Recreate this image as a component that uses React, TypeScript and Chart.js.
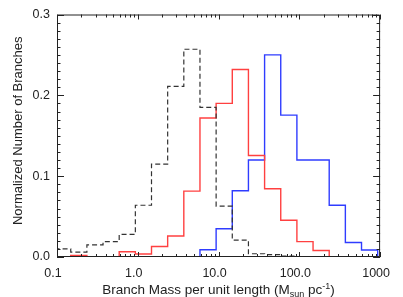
import React, { useEffect, useRef } from 'react';
import { Chart, registerables } from 'chart.js';

Chart.register(...registerables);

// Histogram bin edges, log10 of branch mass per unit length
const binEdgesLog = [
  -1.03, -0.83, -0.63, -0.43, -0.23, -0.03, 0.17, 0.37, 0.57, 0.77, 0.97,
  1.17, 1.37, 1.57, 1.77, 1.97, 2.17, 2.37, 2.57, 2.77, 2.97, 3.17,
];

// Normalized number of branches per bin (21 bins)
const blackDashedValues = [
  0.010, 0.006, 0.015, 0.019, 0.028, 0.064, 0.115, 0.211, 0.257, 0.185, 0.063,
  0.021, 0.004, 0.003, 0.001, 0, 0, 0, 0, 0, 0,
];
const redValues = [
  0, 0.002, 0, 0, 0.0065, 0.0037, 0.013, 0.026, 0.0815, 0.172, 0.19,
  0.232, 0.1255, 0.0845, 0.0455, 0.019, 0.008, 0, 0, 0, 0,
];
const blueValues = [
  0, 0, 0, 0, 0, 0, 0, 0, 0, 0.009, 0.035,
  0.082, 0.12, 0.25, 0.1755, 0.12, 0.12, 0.064, 0.018, 0.0086, 0,
];

const xTickValues = [0.1, 1, 10, 100, 1000];
const xTickLabels = ['0.1', '1.0', '10.0', '100.0', '1000'];
const yTickValues = [0, 0.1, 0.2, 0.3];
const yTickLabels = ['0.0', '0.1', '0.2', '0.3'];

const xTitleMain = 'Branch Mass per unit length (M';
const xTitleSub = 'sun';
const xTitleMid = ' pc';
const xTitleSup = '-1';
const xTitleEnd = ')';
const yTitle = 'Normalized Number of Branches';

const FONT = "'Liberation Sans', Arial, sans-serif";
const TEXT = '#222';

function toSteps(values: number[]) {
  const pts = values.map((v, i) => ({ x: Math.pow(10, binEdgesLog[i]), y: v }));
  pts.push({ x: Math.pow(10, binEdgesLog[binEdgesLog.length - 1]), y: values[values.length - 1] });
  return pts;
}

const idlFrame = {
  id: 'idlFrame',
  afterDatasetsDraw(chart: any) {
    const { ctx, chartArea: a, scales } = chart;
    const xs = scales.x;
    const ys = scales.y;
    ctx.save();
    ctx.strokeStyle = TEXT;
    ctx.lineWidth = 1;
    ctx.beginPath();
    ctx.rect(a.left + 0.5, a.top + 0.5, a.right - a.left - 1, a.bottom - a.top - 1);
    ctx.stroke();

    const line = (x1: number, y1: number, x2: number, y2: number) => {
      ctx.moveTo(x1, y1);
      ctx.lineTo(x2, y2);
    };
    ctx.beginPath();
    const xMaj = 5, xMin = 3;
    for (let d = 0; d < xTickValues.length; d++) {
      const v = xTickValues[d];
      const px = Math.round(xs.getPixelForValue(v)) + 0.5;
      line(px, a.bottom, px, a.bottom - xMaj);
      line(px, a.top, px, a.top + xMaj);
      if (d < xTickValues.length - 1) {
        for (let m = 2; m <= 9; m++) {
          const mx = Math.round(xs.getPixelForValue(v * m)) + 0.5;
          line(mx, a.bottom, mx, a.bottom - xMin);
          line(mx, a.top, mx, a.top + xMin);
        }
      }
    }
    const yMaj = 7, yMin = 3.5;
    for (let d = 0; d < yTickValues.length; d++) {
      const v = yTickValues[d];
      const py = Math.round(ys.getPixelForValue(v)) + 0.5;
      line(a.left, py, a.left + yMaj, py);
      line(a.right, py, a.right - yMaj, py);
      if (d < yTickValues.length - 1) {
        const step = (yTickValues[d + 1] - v) / 10;
        for (let m = 1; m <= 9; m++) {
          const my = Math.round(ys.getPixelForValue(v + step * m)) + 0.5;
          line(a.left, my, a.left + yMin, my);
          line(a.right, my, a.right - yMin, my);
        }
      }
    }
    ctx.stroke();
    ctx.restore();
  },
  afterDraw(chart: any) {
    const { ctx, chartArea: a } = chart;
    ctx.save();
    ctx.fillStyle = TEXT;
    const big = `13.5px ${FONT}`;
    const small = `9px ${FONT}`;
    const parts = [
      { t: xTitleMain, f: big, dy: 0 },
      { t: xTitleSub, f: small, dy: 3 },
      { t: xTitleMid, f: big, dy: 0 },
      { t: xTitleSup, f: small, dy: -5 },
      { t: xTitleEnd, f: big, dy: 0 },
    ];
    let w = 0;
    parts.forEach((p) => {
      ctx.font = p.f;
      w += ctx.measureText(p.t).width;
    });
    let x = (a.left + a.right) / 2 - w / 2;
    const base = 294;
    ctx.textAlign = 'left';
    ctx.textBaseline = 'alphabetic';
    parts.forEach((p) => {
      ctx.font = p.f;
      ctx.fillText(p.t, x, base + p.dy);
      x += ctx.measureText(p.t).width;
    });

    ctx.translate(18, (a.top + a.bottom) / 2 - 5);
    ctx.rotate(-Math.PI / 2);
    ctx.font = `13px ${FONT}`;
    ctx.textAlign = 'center';
    ctx.textBaseline = 'middle';
    ctx.fillText(yTitle, 0, 0);
    ctx.restore();
  },
};

export default function App() {
  const ref = useRef<HTMLCanvasElement | null>(null);

  useEffect(() => {
    if (!ref.current) return;
    const chart = new Chart(ref.current, {
      type: 'line',
      data: {
        datasets: [
          {
            data: toSteps(blackDashedValues),
            borderColor: '#333',
            borderWidth: 1.2,
            borderDash: [5, 3],
            stepped: true,
            pointRadius: 0,
            fill: false,
          },
          {
            data: toSteps(redValues),
            borderColor: '#ff4040',
            borderWidth: 1.4,
            stepped: true,
            pointRadius: 0,
            fill: false,
          },
          {
            data: toSteps(blueValues),
            borderColor: '#2f3cff',
            borderWidth: 1.4,
            stepped: true,
            pointRadius: 0,
            fill: false,
          },
        ],
      },
      options: {
        animation: false,
        responsive: false,
        events: [],
        layout: { padding: { left: 0, right: 10, top: 13, bottom: 0 } },
        plugins: {
          legend: { display: false },
          tooltip: { enabled: false },
        },
        scales: {
          x: {
            type: 'logarithmic',
            min: 0.1,
            max: 1000,
            grid: { display: false, drawTicks: false },
            border: { display: false },
            afterBuildTicks: (s: any) => {
              s.ticks = xTickValues.map((v) => ({ value: v }));
            },
            afterFit: (s: any) => {
              s.height = 40;
            },
            ticks: {
              autoSkip: false,
              maxRotation: 0,
              padding: 9,
              labelOffset: -4,
              color: TEXT,
              font: { family: FONT, size: 12.5 },
              callback: (_v: any, i: number) => xTickLabels[i],
            },
          },
          y: {
            type: 'linear',
            min: 0,
            max: 0.3,
            grid: { display: false, drawTicks: false },
            border: { display: false },
            afterBuildTicks: (s: any) => {
              s.ticks = yTickValues.map((v) => ({ value: v }));
            },
            afterFit: (s: any) => {
              s.width = 57;
            },
            ticks: {
              padding: 7,
              color: TEXT,
              font: { family: FONT, size: 12.5 },
              callback: (_v: any, i: number) => yTickLabels[i],
            },
          },
        },
      },
      plugins: [idlFrame],
    });
    return () => chart.destroy();
  }, []);

  return (
    <div style={{ position: 'absolute', left: 0, top: 0, width: 403, height: 297, background: '#fff' }}>
      <canvas ref={ref} width={403} height={297} />
    </div>
  );
}
